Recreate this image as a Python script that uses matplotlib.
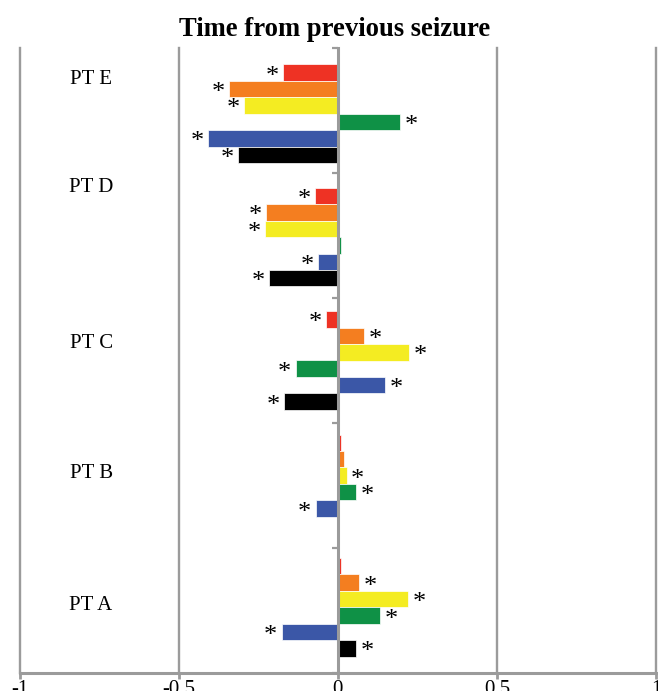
import matplotlib
matplotlib.use("Agg")
import matplotlib.pyplot as plt
import numpy as np

plt.rcParams["font.family"] = ["Liberation Serif", "DejaVu Serif"]

# Patients, bottom to top
patients = ["PT A", "PT B", "PT C", "PT D", "PT E"]

# Change relative to previous seizure, one list per measure (PT A .. PT E)
red_vals = [0.011, 0.010, -0.037, -0.071, -0.171]
orange_vals = [0.067, 0.020, 0.082, -0.225, -0.341]
yellow_vals = [0.222, 0.028, 0.225, -0.229, -0.295]
green_vals = [0.134, 0.057, -0.132, 0.011, 0.196]
blue_vals = [-0.176, -0.069, 0.148, -0.061, -0.407]
black_vals = [0.057, 0.0, -0.168, -0.216, -0.312]

# Significance markers (True -> asterisk)
red_sig = [False, False, True, True, True]
orange_sig = [True, False, True, True, True]
yellow_sig = [True, True, True, True, True]
green_sig = [True, True, True, False, True]
blue_sig = [True, True, True, True, True]
black_sig = [True, False, True, True, True]

x_ticks = [-1, -0.5, 0, 0.5, 1]
x_tick_labels = ["-1", "-0.5", "0", "0.5", "1"]

series = [
    (red_vals, red_sig, "#EE3224"),
    (orange_vals, orange_sig, "#F47E20"),
    (yellow_vals, yellow_sig, "#F4EC22"),
    (green_vals, green_sig, "#0F9146"),
    (blue_vals, blue_sig, "#3B57A7"),
    (black_vals, black_sig, "#000000"),
]

GRAY = "#9b9b9b"

fig = plt.figure(figsize=(6.58, 6.91), dpi=100)
ax = fig.add_axes([19.5 / 658, 18 / 691, 636.5 / 658, 625 / 691])
ax.set_xlim(-1, 1)
ax.set_ylim(0, 5)

# Group layout
n_groups = len(patients)
group_pitch = 0.9875
bar_h = 0.1316
centers = 2.5 + (np.arange(n_groups) - 2) * group_pitch

for k, (vals, sig, color) in enumerate(series):
    ys = centers + (2.5 - k) * bar_h
    ax.barh(ys, vals, height=bar_h, color=color, edgecolor="white",
            linewidth=0.5, zorder=2)
    for y, v, s in zip(ys, vals, sig):
        if not s:
            continue
        off = 11 if v >= 0 else -11
        ax.annotate("*", xy=(v, y), xytext=(off, -4), textcoords="offset pixels",
                    ha="center", va="center", fontsize=19, color="black",
                    zorder=4)

# Vertical gridlines
for xv in x_ticks:
    if xv == 0:
        continue
    ax.axvline(xv, color=GRAY, lw=1.7, clip_on=False, zorder=0)

# Patient labels
label_x = -0.775
label_y = [0.544, 1.592, 2.64, 3.888, 4.744]
for name, ly in zip(patients, label_y):
    ax.text(label_x, ly, name, ha="center", va="center", fontsize=15)

# Axes styling: category axis at zero
for side in ("top", "right"):
    ax.spines[side].set_visible(False)
ax.spines["left"].set_position(("data", 0))
ax.spines["left"].set_color(GRAY)
ax.spines["left"].set_linewidth(2.2)
ax.spines["left"].set_zorder(3)
ax.spines["bottom"].set_color(GRAY)
ax.spines["bottom"].set_linewidth(2.2)

ax.set_yticks(np.arange(0, n_groups + 1))
ax.set_yticklabels([])
ax.tick_params(axis="y", direction="out", length=4, width=1.6, color=GRAY)

ax.set_xticks(x_ticks)
ax.set_xticklabels(x_tick_labels)
ax.tick_params(axis="x", direction="out", length=4, width=2, color=GRAY,
               labelsize=15, pad=1)

fig.text(335 / 658, 1 - 36 / 691, "Time from previous seizure", ha="center",
         va="baseline", fontsize=19.2, fontweight="bold")

fig.savefig("out.png", dpi=100)
